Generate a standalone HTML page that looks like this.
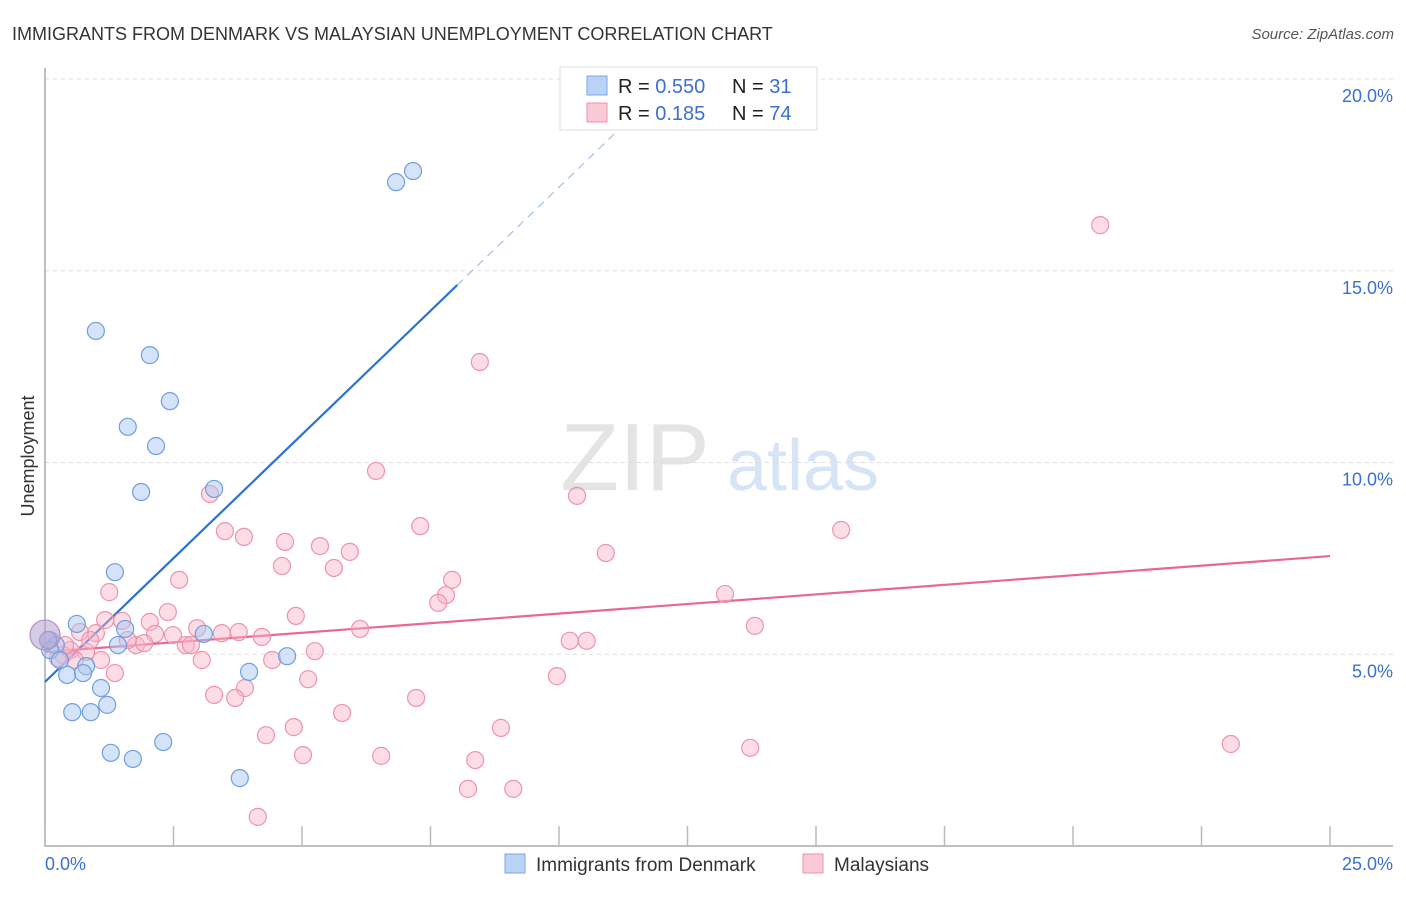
<!DOCTYPE html>
<html><head><meta charset="utf-8"><style>
body{margin:0;background:#fff;font-family:"Liberation Sans",sans-serif;}
svg text{font-family:"Liberation Sans",sans-serif;}
</style></head><body>
<svg id="chart" width="1406" height="892" xmlns="http://www.w3.org/2000/svg">
<text x="12" y="40" font-size="18" fill="#333">IMMIGRANTS FROM DENMARK VS MALAYSIAN UNEMPLOYMENT CORRELATION CHART</text>
<text x="1394" y="39" font-size="15" fill="#555" text-anchor="end" font-style="italic">Source: ZipAtlas.com</text>
<g>
<text x="635" y="490" font-size="96" fill="#e4e4e4" font-family="Liberation Serif" text-anchor="middle">ZIP</text>
<text x="803" y="490" font-size="72" fill="#d6e4f5" text-anchor="middle">atlas</text>
</g>
<g id="grid"></g>
<g id="axes"></g>
<g id="lines"></g>
<g id="points"></g>
<text transform="translate(34,456) rotate(-90)" font-size="18" fill="#333" text-anchor="middle">Unemployment</text>
<g>
<rect x="560" y="67" width="257" height="63" fill="#fff" stroke="#ddd"/>
<rect x="587" y="76" width="20" height="19" fill="#b9d3f5" stroke="#7aa6e6"/>
<rect x="587" y="103" width="20" height="19" fill="#f9c9d6" stroke="#ee93ab"/>
<text x="618" y="93" font-size="20" fill="#222">R = <tspan fill="#3a70d0">0.550</tspan></text>
<text x="732" y="93" font-size="20" fill="#222">N = <tspan fill="#3a70d0"> 31</tspan></text>
<text x="618" y="120" font-size="20" fill="#222">R = <tspan fill="#3a70d0"> 0.185</tspan></text>
<text x="732" y="120" font-size="20" fill="#222">N = <tspan fill="#3a70d0">74</tspan></text>
</g>
<g>
<rect x="505" y="854" width="20" height="19" fill="#b9d3f5" stroke="#7aa6e6"/>
<text x="536" y="871" font-size="19" fill="#333">Immigrants from Denmark</text>
<rect x="803" y="854" width="20" height="19" fill="#f9c9d6" stroke="#ee93ab"/>
<text x="834" y="871" font-size="19" fill="#333">Malaysians</text>
</g>
</svg>
<script>
const blueX=[7.16,6.83,0.99,2.04,2.43,1.61,2.16,1.87,3.29,1.36,0.62,1.56,3.09,1.42,0.21,4.71,0.80,3.97,0.43,0.74,1.09,1.21,0.53,0.89,2.30,1.28,1.71,3.79,0.10,0.29,0.06];
const blueY=[17.60,17.31,13.43,12.80,11.60,10.93,10.43,9.23,9.31,7.14,5.79,5.66,5.53,5.24,5.24,4.95,4.69,4.54,4.46,4.51,4.12,3.68,3.49,3.49,2.71,2.43,2.27,1.77,5.11,4.85,5.37];
const pinkX=[20.53,8.46,6.44,10.35,3.21,7.30,15.49,3.50,3.87,4.67,5.35,5.93,10.91,4.61,5.62,2.61,7.92,7.80,1.25,7.65,13.23,4.88,2.39,13.81,1.50,2.04,6.13,2.96,3.77,3.44,0.99,0.68,2.49,2.14,4.22,10.21,10.54,1.77,2.74,1.93,2.84,5.25,0.80,0.35,1.09,3.05,4.42,1.36,9.96,5.12,3.89,3.29,3.70,7.22,5.78,4.84,8.87,4.30,13.72,23.07,5.02,6.54,8.37,8.23,9.11,4.14,0.10,0.49,0.25,0.88,0.39,0.58,1.61,1.17];
const pinkY=[16.19,12.62,9.78,9.13,9.18,8.34,8.24,8.21,8.06,7.93,7.82,7.67,7.64,7.30,7.25,6.94,6.94,6.54,6.62,6.34,6.57,6.00,6.10,5.74,5.87,5.84,5.66,5.68,5.58,5.55,5.55,5.58,5.50,5.53,5.45,5.35,5.35,5.24,5.24,5.29,5.24,5.08,5.06,4.98,4.85,4.85,4.85,4.51,4.43,4.35,4.12,3.94,3.86,3.86,3.47,3.10,3.08,2.89,2.56,2.66,2.37,2.35,2.24,1.49,1.49,0.76,5.37,5.11,4.90,5.37,5.24,4.85,5.37,5.89];
const yTicks=[5,10,15,20];
const yTickLabels=["5.0%","10.0%","15.0%","20.0%"];
const xTicks=[0,2.5,5,7.5,10,12.5,15,17.5,20,22.5,25];
const blueFit=[4.28,1.29]; // intercept, slope
const pinkFit=[5.06,0.10];
const blueSolidEnd=8.02, blueDashEnd=11.28;
const X=v=>45+v*51.4, Y=v=>846-v*38.35;
const NS="http://www.w3.org/2000/svg";
function mk(tag,attrs,parent){const e=document.createElementNS(NS,tag);for(const k in attrs)e.setAttribute(k,attrs[k]);document.getElementById(parent).appendChild(e);return e;}
yTicks.forEach((t,i)=>{
 const g=mk('line',{x1:45,x2:1393,y1:Y(t),y2:Y(t),stroke:'#ddd','stroke-dasharray':'4,4'},'grid');
 
 
 const l=mk('text',{x:1393,y:Y(t)+23,'font-size':18,fill:'#3a70d0','text-anchor':'end'},'grid');
 l.textContent=yTickLabels[i];
 
 
});
const ax=mk('path',{d:'M45,68V846H1393',fill:'none',stroke:'#aaa','stroke-width':1.5},'axes');


xTicks.forEach(t=>{const k=mk('line',{x1:X(t),x2:X(t),y1:826,y2:846,stroke:'#bbb','stroke-width':1.5},'axes');
 
 });
const x0=mk('text',{x:45,y:870,'font-size':18,fill:'#3a70d0'},'axes');x0.textContent='0.0%';


const x1=mk('text',{x:1393,y:870,'font-size':18,fill:'#3a70d0','text-anchor':'end'},'axes');x1.textContent='25.0%';


function dot(x,y,fill,stroke,name,r){const c=mk('circle',{cx:X(x),cy:Y(y),r:r||8.5,fill:fill,stroke:stroke,'stroke-width':1.2},'points');
 
 }
pinkX.forEach((x,i)=>dot(x,pinkY[i],'rgba(248,180,200,0.45)','#ee93ab','malaysians-point'));
blueX.forEach((x,i)=>dot(x,blueY[i],'rgba(170,200,240,0.5)','#6f9fe0','denmark-point'));
dot(0,5.5,'rgba(180,160,210,0.55)','#b48fc0','overlap-point',15);
const bl=mk('line',{x1:X(0),y1:Y(blueFit[0]),x2:X(blueSolidEnd),y2:Y(blueFit[0]+blueFit[1]*blueSolidEnd),stroke:'#2a72d4','stroke-width':2.2},'lines');


const bd=mk('line',{x1:X(blueSolidEnd),y1:Y(blueFit[0]+blueFit[1]*blueSolidEnd),x2:X(blueDashEnd),y2:Y(blueFit[0]+blueFit[1]*blueDashEnd),stroke:'#8fb3e6','stroke-width':1,'stroke-dasharray':'8,6'},'lines');


const pl=mk('line',{x1:X(0),y1:Y(pinkFit[0]),x2:X(25),y2:Y(pinkFit[0]+pinkFit[1]*25),stroke:'#e8688f','stroke-width':2.2},'lines');


</script>
</body></html>
